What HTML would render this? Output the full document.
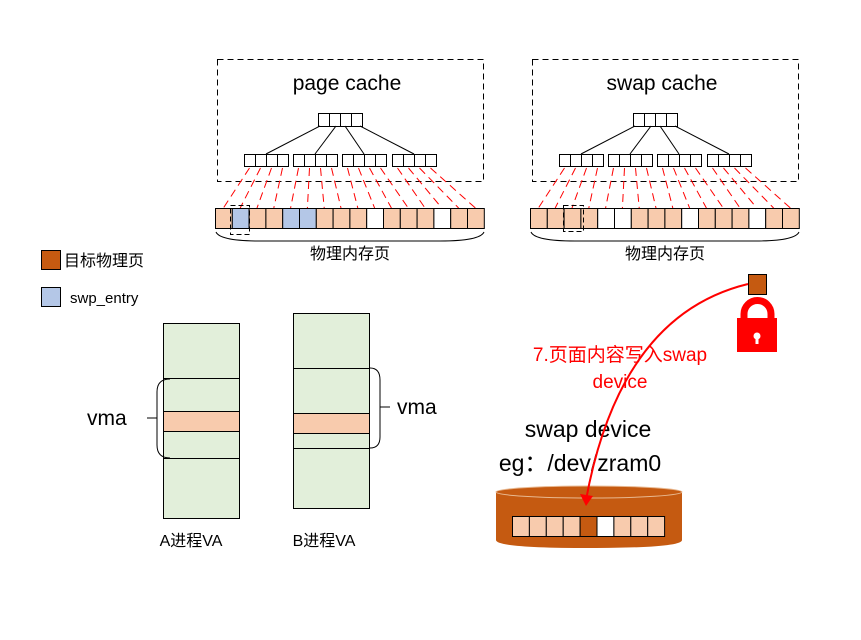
<!DOCTYPE html>
<html><head><meta charset="utf-8"><style>
body{margin:0;background:#fff}
svg{display:block}
text{font-family:"Liberation Sans","Noto Sans CJK SC",sans-serif}
</style></head><body>
<svg id="s" width="861" height="640" viewBox="0 0 861 640" xmlns="http://www.w3.org/2000/svg">
<rect x="217.5" y="59.5" width="266" height="122" fill="none" stroke="#000" stroke-dasharray="6,4"/>
<rect x="532.5" y="59.5" width="266" height="122" fill="none" stroke="#000" stroke-dasharray="6,4"/>
<text x="347" y="90" font-size="21" text-anchor="middle">page cache</text>
<text x="662" y="90" font-size="21" text-anchor="middle">swap cache</text>
<g id="g"></g>
<path d="M216,232 Q220,241 260,241 L440,241 Q480,241 484,232" fill="none" stroke="#000"/>
<path d="M531,232 Q535,241 575,241 L755,241 Q795,241 799,232" fill="none" stroke="#000"/>
<text x="350" y="259" font-size="16" text-anchor="middle">物理内存页</text>
<text x="665" y="259" font-size="16" text-anchor="middle">物理内存页</text>
<rect x="230.5" y="205.5" width="19" height="29" fill="none" stroke="#000" stroke-dasharray="5,3"/>
<rect x="563.5" y="205.5" width="20" height="26" fill="none" stroke="#000" stroke-dasharray="5,3"/>
<rect x="41.5" y="250.5" width="19" height="19" fill="#c55a11" stroke="#000"/>
<text x="64" y="266" font-size="16">目标物理页</text>
<rect x="41.5" y="287.5" width="19" height="19" fill="#b4c7e7" stroke="#000"/>
<text x="70" y="303" font-size="15">swp_entry</text>
<rect x="163.5" y="323.5" width="76" height="195" fill="#e2efda" stroke="#000"/>
<line x1="163" y1="378.5" x2="239" y2="378.5" stroke="#000"/>
<rect x="163.5" y="411.5" width="76" height="20" fill="#f8cbad" stroke="#000"/>
<line x1="163" y1="458.5" x2="239" y2="458.5" stroke="#000"/>
<path d="M170,379 Q157,379 157,392 L157,445 Q157,458 170,458 M147,418 L157,418" fill="none" stroke="#000"/>
<text x="87" y="425" font-size="21">vma</text>
<rect x="293.5" y="313.5" width="76" height="195" fill="#e2efda" stroke="#000"/>
<line x1="293" y1="368.5" x2="369" y2="368.5" stroke="#000"/>
<rect x="293.5" y="413.5" width="76" height="20" fill="#f8cbad" stroke="#000"/>
<line x1="293" y1="448.5" x2="369" y2="448.5" stroke="#000"/>
<path d="M370,368 Q380,368 380,380 L380,437 Q380,448 370,448 M380,407 L390,407" fill="none" stroke="#000"/>
<text x="397" y="414" font-size="21">vma</text>
<text x="191" y="546" font-size="16" text-anchor="middle">A进程VA</text>
<text x="324" y="546" font-size="16" text-anchor="middle">B进程VA</text>
<path d="M496,492 L496,540 Q496,548 589,548 Q682,548 682,540 L682,492 Z" fill="#c55a11"/>
<ellipse cx="589" cy="492" rx="93" ry="6" fill="#c55a11" stroke="#e8b890" stroke-width="1"/>
<g id="d"></g>
<text x="588" y="437" font-size="23" text-anchor="middle">swap device</text>
<text x="580" y="471" font-size="23" text-anchor="middle">eg：/dev/zram0</text>
<rect x="748.5" y="274.5" width="18" height="20" fill="#c55a11" stroke="#000"/>
<path d="M744,320 L744,314 A13.5,13.5 0 0 1 771,314 L771,320" fill="none" stroke="#f00" stroke-width="7"/>
<rect x="737" y="318" width="40" height="34" fill="#f00"/>
<circle cx="757" cy="336" r="3.5" fill="#fff"/><rect x="755.5" y="337" width="3" height="7" fill="#fff"/>
<path d="M748,284 Q620,315 586,500" fill="none" stroke="#f00" stroke-width="2"/>
<path d="M580,494 L586,506 L593,496 Z" fill="#f00"/>
<text x="620" y="361" font-size="19" fill="#f00" text-anchor="middle">7.页面内容写入swap</text>
<text x="620" y="388" font-size="19" fill="#f00" text-anchor="middle">device</text>
</svg>
<script>
var g=document.getElementById('g'),ns='http://www.w3.org/2000/svg';
function el(n,a,p){var e=document.createElementNS(ns,n);for(var k in a)e.setAttribute(k,a[k]);(p||g).appendChild(e);return e;}
var P='#f8cbad',B='#b4c7e7',W='#fff';
var rows=[[P,B,P,P,B,B,P,P,P,W,P,P,P,W,P,P],[P,P,P,P,W,W,P,P,P,W,P,P,P,W,P,P]];
[0,315].forEach(function(o,ri){
  var tx=318+o;
  for(var i=0;i<4;i++)el('rect',{x:tx+i*11+.5,y:113.5,width:11,height:13,fill:'#fff',stroke:'#000'});
  var gx=[244,293,342,392],tops=[tx+2,tx+18,tx+27,tx+42];
  for(var j=0;j<4;j++){
    el('line',{x1:tops[j],y1:126,x2:gx[j]+o+22,y2:154,stroke:'#000'});
    for(var i=0;i<4;i++){
      var cx=gx[j]+o+i*11;
      el('rect',{x:cx+.5,y:154.5,width:11,height:12,fill:'#fff',stroke:'#000'});
      var k=j*4+i,px=215+o+k*16.8;
      el('line',{x1:cx+5.5,y1:168,x2:px+8.4,y2:208,stroke:'#f00','stroke-dasharray':'8,5'});
    }
  }
  for(var k=0;k<16;k++)el('rect',{x:215.5+o+k*16.8,y:208.5,width:16.8,height:20,fill:rows[ri][k],stroke:'#000'});
});
var d=document.getElementById('d'),dc=[P,P,P,P,'#c55a11',W,P,P,P];
for(var k=0;k<9;k++)el('rect',{x:512.5+k*16.9,y:516.5,width:16.9,height:20,fill:dc[k],stroke:'#000'},d);
</script>
</body></html>
